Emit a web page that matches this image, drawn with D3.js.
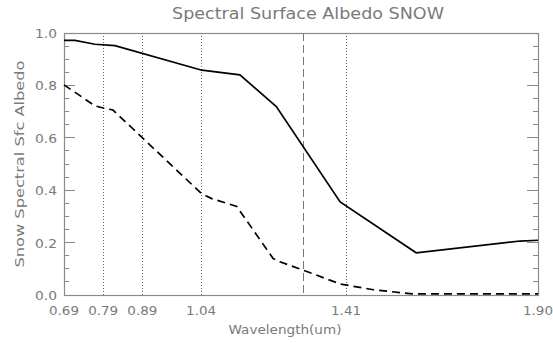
<!DOCTYPE html>
<html>
<head>
<meta charset="utf-8">
<script src="https://cdn.jsdelivr.net/npm/d3@7"></script>
<style>
  body { margin: 0; background: #fff; }
  text { font-family: "DejaVu Sans", sans-serif; fill: #7a7a7a; }
</style>
</head>
<body>
<div id="chart-container"></div>
<script>
// --- DATA ---
const xTicks = [0.69, 0.79, 0.89, 1.04, 1.41, 1.90];
const dashedMark = 1.30;

// solid curve (upper)
const solidX = [0.69, 0.718, 0.769, 0.82, 1.042, 1.139, 1.232, 1.395, 1.589, 1.854, 1.90];
const solidY = [0.972, 0.972, 0.957, 0.952, 0.858, 0.840, 0.719, 0.355, 0.161, 0.206, 0.209];

// dashed curve (lower)
const dashX = [0.69, 0.769, 0.795, 0.815, 1.041, 1.067, 1.131, 1.224, 1.241, 1.30, 1.395, 1.48, 1.58, 1.90];
const dashY = [0.802, 0.722, 0.712, 0.706, 0.387, 0.368, 0.338, 0.139, 0.127, 0.095, 0.042, 0.020, 0.004, 0.004];

// --- SETUP ---
const width = 553, height = 343;
const margin = { top: 33, right: 15, bottom: 48, left: 64 };
const plotW = width - margin.left - margin.right;
const plotH = height - margin.top - margin.bottom;

const svg = d3.select("#chart-container").append("svg")
  .attr("width", width).attr("height", height);
const g = svg.append("g").attr("transform", `translate(${margin.left},${margin.top})`);

const x = d3.scaleLinear().domain([0.69, 1.90]).range([0, plotW]);
const y = d3.scaleLinear().domain([0, 1]).range([plotH, 0]);

const axisColor = "#8a8a8a";

// vertical reference lines
g.selectAll(".vline").data(xTicks.slice(1, -1)).enter().append("line")
  .attr("x1", d => Math.round(x(d)) + 0.5).attr("x2", d => Math.round(x(d)) + 0.5)
  .attr("y1", 0).attr("y2", plotH)
  .attr("stroke", "#666").attr("stroke-width", 1)
  .attr("stroke-dasharray", "1,2");

g.append("line")
  .attr("x1", Math.round(x(dashedMark)) + 0.5).attr("x2", Math.round(x(dashedMark)) + 0.5)
  .attr("y1", 0).attr("y2", plotH)
  .attr("stroke", "#777").attr("stroke-width", 1)
  .attr("stroke-dasharray", "8,4");

// y ticks (left and right, inward)
const minor = d3.range(0, 21).map(i => i * 0.05);
const tickG = g.append("g").attr("shape-rendering", "crispEdges");
minor.forEach((v, i) => {
  const len = i % 4 === 0 ? 11 : 5;
  tickG.append("line").attr("x1", 0).attr("x2", len).attr("y1", y(v)).attr("y2", y(v))
    .attr("stroke", axisColor).attr("stroke-width", 1);
  tickG.append("line").attr("x1", plotW).attr("x2", plotW - len).attr("y1", y(v)).attr("y2", y(v))
    .attr("stroke", axisColor).attr("stroke-width", 1);
});

// y tick labels
g.selectAll(".ylab").data(d3.range(0, 6).map(i => i * 0.2)).enter().append("text")
  .attr("x", -7).attr("y", d => y(d) + 5)
  .attr("text-anchor", "end").style("font-size", "13px")
  .attr("textLength", 22).attr("lengthAdjust", "spacingAndGlyphs")
  .text(d => d.toFixed(1));

// x tick labels
g.selectAll(".xlab").data(xTicks).enter().append("text")
  .attr("x", d => x(d)).attr("y", plotH + 20)
  .attr("text-anchor", "middle").style("font-size", "13px")
  .attr("textLength", 30).attr("lengthAdjust", "spacingAndGlyphs")
  .text(d => d.toFixed(2));

// frame
g.append("rect").attr("x", 0.5).attr("y", 0.5).attr("width", plotW).attr("height", plotH)
  .attr("fill", "none").attr("stroke", axisColor).attr("stroke-width", 1.2);

// lines
const line = d3.line().x(d => x(d[0])).y(d => y(d[1]));
g.append("path").datum(solidX.map((v, i) => [v, solidY[i]]))
  .attr("d", line).attr("fill", "none").attr("stroke", "#000").attr("stroke-width", 1.7);
g.append("path").datum(dashX.map((v, i) => [v, dashY[i]]))
  .attr("d", line).attr("fill", "none").attr("stroke", "#000").attr("stroke-width", 1.7)
  .attr("stroke-dasharray", "8,5");

// titles
svg.append("text").attr("x", 308).attr("y", 19).attr("text-anchor", "middle")
  .style("font-size", "15px").attr("textLength", 272).attr("lengthAdjust", "spacingAndGlyphs")
  .text("Spectral Surface Albedo SNOW");

svg.append("text").attr("x", 285).attr("y", 334).attr("text-anchor", "middle")
  .style("font-size", "13px").attr("textLength", 113).attr("lengthAdjust", "spacingAndGlyphs")
  .text("Wavelength(um)");

svg.append("text").attr("transform", `translate(24,${margin.top + plotH / 2}) rotate(-90)`)
  .attr("text-anchor", "middle").style("font-size", "13px")
  .attr("textLength", 207).attr("lengthAdjust", "spacingAndGlyphs")
  .text("Snow Spectral Sfc Albedo");
</script>
</body>
</html>
